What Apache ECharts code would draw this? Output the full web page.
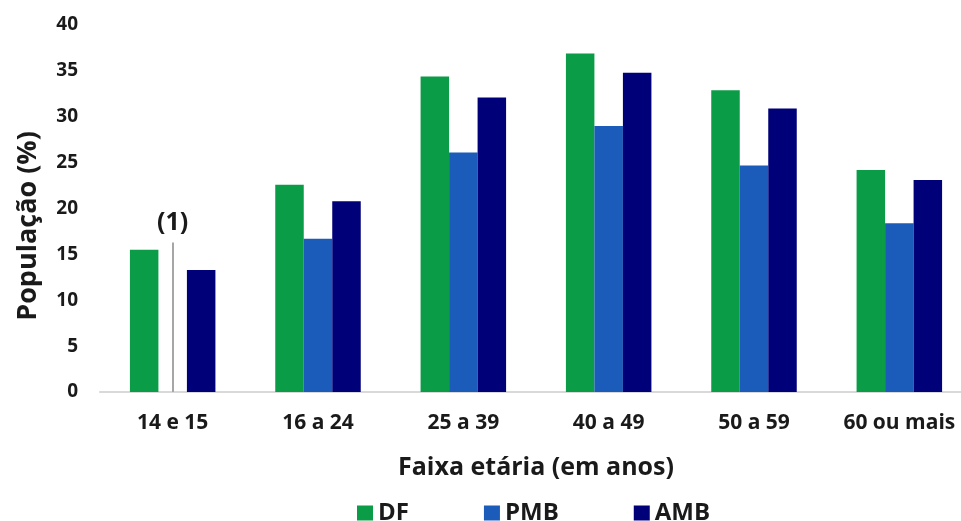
<!DOCTYPE html>
<html>
<head>
<meta charset="utf-8">
<script src="https://cdn.jsdelivr.net/npm/echarts@6/dist/echarts.min.js"></script>
<style>
  html, body { margin: 0; padding: 0; background: #fff; overflow: hidden; }
  /* plot area runs slightly past the right edge of the view */
  #chart { width: 972px; height: 521px; }
</style>
</head>
<body>
<div id="chart"></div>
<script>
// Age groups (years)
const categories = ['14 e 15', '16 a 24', '25 a 39', '40 a 49', '50 a 59', '60 ou mais'];
// Population share (%) by region
const dfValues  = [15.5, 22.6, 34.4, 36.9, 32.9, 24.2];
const pmbValues = [null, 16.7, 26.1, 29.0, 24.7, 18.4];
const ambValues = [13.3, 20.8, 32.1, 34.8, 30.9, 23.1];
// Y axis ticks
const yTicks = { min: 0, max: 40, interval: 5 };
// Footnote marker for the group without PMB data
const noteCategory = '14 e 15';
const noteHeight = 16.3;
const noteLabel = '(1)';

const FONT = '"Open Sans", sans-serif';
const TEXT = '#1a1a1a';

const chart = echarts.init(document.getElementById('chart'), null, { renderer: 'canvas' });

const barBase = {
  type: 'bar',
  barWidth: 28.5,
  barGap: '0%'
};

chart.setOption({
  animation: false,
  backgroundColor: '#ffffff',
  textStyle: { fontFamily: FONT },
  grid: { left: 100, right: 0, top: 25, bottom: 129, containLabel: false },
  legend: {
    data: ['DF', 'PMB', 'AMB'],
    top: 496,
    left: 352,
    itemWidth: 16,
    itemHeight: 15,
    itemGap: 75,
    icon: 'rect',
    textStyle: { fontFamily: FONT, fontSize: 24, fontWeight: 'bold', color: TEXT }
  },
  xAxis: {
    type: 'category',
    data: categories,
    name: 'Faixa etária (em anos)',
    nameLocation: 'middle',
    nameGap: 63,
    nameTextStyle: { fontFamily: FONT, fontSize: 25, fontWeight: 'bold', color: TEXT },
    axisLine: { lineStyle: { color: '#d9d9d9', width: 2 } },
    axisTick: { show: false },
    axisLabel: { interval: 0, margin: 21, fontFamily: FONT, fontSize: 21, fontWeight: 'bold', color: TEXT }
  },
  yAxis: {
    type: 'value',
    min: yTicks.min,
    max: yTicks.max,
    interval: yTicks.interval,
    axisLine: { show: false },
    axisTick: { show: false },
    splitLine: { show: false },
    axisLabel: { margin: 22, fontFamily: FONT, fontSize: 19, fontWeight: 'bold', color: TEXT }
  },
  graphic: [{
    type: 'text',
    x: 28,
    y: 226,
    rotation: Math.PI / 2,
    style: {
      text: 'População (%)',
      fontFamily: FONT,
      fontSize: 27,
      fontWeight: 'bold',
      fill: TEXT,
      textAlign: 'center',
      textVerticalAlign: 'middle'
    }
  }],
  series: [
    Object.assign({}, barBase, {
      name: 'DF',
      data: dfValues,
      itemStyle: { color: '#0b9c47' }
    }),
    Object.assign({}, barBase, {
      name: 'PMB',
      data: pmbValues,
      itemStyle: { color: '#1b5bba' },
      markLine: {
        symbol: 'none',
        silent: true,
        lineStyle: { color: '#a6a6a6', width: 2, type: 'solid' },
        label: {
          show: true,
          position: 'end',
          formatter: noteLabel,
          distance: 7,
          fontFamily: FONT,
          fontSize: 25,
          fontWeight: 'bold',
          color: TEXT
        },
        data: [[
          { coord: [noteCategory, 0] },
          { coord: [noteCategory, noteHeight] }
        ]]
      }
    }),
    Object.assign({}, barBase, {
      name: 'AMB',
      data: ambValues,
      itemStyle: { color: '#000078' }
    })
  ]
});
</script>
</body>
</html>
